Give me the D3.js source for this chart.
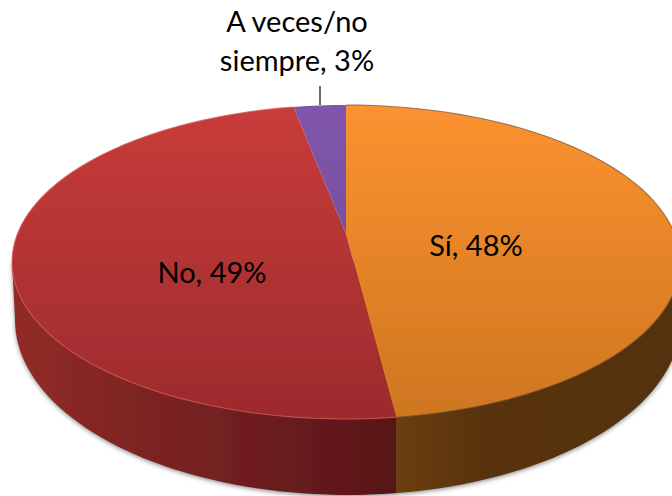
<!DOCTYPE html>
<html><head><meta charset="utf-8">
<script src="https://cdn.jsdelivr.net/npm/d3@7"></script>
<style>html,body{margin:0;padding:0;background:#fff;overflow:hidden}svg{display:block}text{font-family:Lato,"Open Sans",sans-serif;fill:#000}</style>
</head><body><svg id="c" width="672" height="496"></svg>
<script>
const categories = ["Sí", "No", "A veces/no siempre"];
const values = [48, 49, 3];
const faceTop = ["#FC9230", "#C93C3A", "#7F56AB"];
const faceBottom = ["#CE761F", "#9C2B2D", "#6A4790"];
const sideStops = [
  [["#6B3F12", 0], ["#5A330E", 0.3], ["#53300C", 1]],
  [["#922B28", 0], ["#7F2522", 0.3], ["#732020", 0.55], ["#571418", 1]]
];
const labelLines = [["Sí, 48%"], ["No, 49%"], ["A veces/no", "siempre, 3%"]];
const labelPos = [[476, 256], [212, 283], [297, 32]];

const W = 672, H = 496;
const svg = d3.select("#c");
const defs = svg.append("defs");

// top face ellipse and the perspective image of the pie's centre
const top_ = {cx: 346, cy: 262, rx: 334, ry: 157};
const apexY = -0.178;
const bot = {cx: 348, cy: 320, rx: 333, ry: 175};
const px = d3.scaleLinear().domain([-1, 1]).range([top_.cx - top_.rx, top_.cx + top_.rx]);
const py = d3.scaleLinear().domain([-1, 1]).range([top_.cy - top_.ry, top_.cy + top_.ry]);

// projective map of the unit disc sending its centre to (0, apexY)
function project(x, y) {
  const t = apexY, s = Math.sqrt(1 - t * t), d = 1 + t * y;
  return [px(x * s / d), py((y + t) / d)];
}
const onRim = a => project(Math.sin(a), -Math.cos(a));

const pie = d3.pie().sort(null).value(d => d).startAngle(0).endAngle(2 * Math.PI);
const arcs = pie(values);
const line = d3.line();

// side gradient, hard step at the slice boundary on the front
const frontX = onRim(arcs[0].endAngle)[0];
const leftX = top_.cx - top_.rx, rightX = top_.cx + top_.rx;
const g = defs.append("linearGradient").attr("id", "side").attr("gradientUnits", "userSpaceOnUse")
  .attr("x1", leftX).attr("x2", rightX).attr("y1", 0).attr("y2", 0);
const frac = d3.scaleLinear().domain([leftX, rightX]).range([0, 1]);
sideStops[1].forEach(([c, f]) => g.append("stop").attr("offset", frac(leftX + f * (frontX - leftX))).attr("stop-color", c));
sideStops[0].forEach(([c, f]) => g.append("stop").attr("offset", frac(frontX + f * (rightX - frontX))).attr("stop-color", c));

const fl = defs.append("filter").attr("id", "sh").attr("x", "-5%").attr("y", "-5%").attr("width", "110%").attr("height", "115%");
fl.append("feDropShadow").attr("dx", 0).attr("dy", 1.5).attr("stdDeviation", 2).attr("flood-color", "#555").attr("flood-opacity", 0.65);

const soft = defs.append("filter").attr("id", "soft").attr("x", "-2%").attr("y", "-2%").attr("width", "104%").attr("height", "104%");
soft.append("feGaussianBlur").attr("stdDeviation", 0.6);

// side hull
const hull = [[leftX, top_.cy]];
d3.range(0, 181, 2).forEach(deg => {
  const a = Math.PI * deg / 180;
  hull.push([bot.cx - bot.rx * Math.cos(a), bot.cy + bot.ry * Math.sin(a)]);
});
hull.push([rightX, top_.cy]);
svg.append("path").attr("d", line(hull) + "Z").attr("fill", "url(#side)").attr("filter", "url(#sh)");

// top-face slices
arcs.forEach((d, i) => {
  const gr = defs.append("linearGradient").attr("id", "f" + i).attr("gradientUnits", "userSpaceOnUse")
    .attr("x1", 0).attr("x2", 0).attr("y1", top_.cy - top_.ry).attr("y2", top_.cy + top_.ry);
  gr.append("stop").attr("offset", 0).attr("stop-color", faceTop[i]);
  gr.append("stop").attr("offset", 1).attr("stop-color", faceBottom[i]);
});
const face = svg.append("g").attr("filter", "url(#soft)");
face.selectAll("path.slice").data(arcs).join("path").attr("class", "slice")
  .attr("d", d => {
    const n = Math.max(8, Math.ceil((d.endAngle - d.startAngle) * 40));
    const pts = [project(0, 0)];
    d3.range(n + 1).forEach(k => pts.push(onRim(d.startAngle + (d.endAngle - d.startAngle) * k / n)));
    return line(pts) + "Z";
  })
  .attr("fill", (d, i) => `url(#f${i})`);

// rim: grey-ish on the back, light bevel on the front-left
const rim = svg.append("g").attr("fill", "none").attr("filter", "url(#soft)");
const rimPts = (a0, a1) => d3.range(0, 61).map(k => onRim(a0 + (a1 - a0) * k / 60));
arcs.forEach((d, i) => {
  rim.append("path").attr("d", line(rimPts(d.startAngle, d.endAngle)))
    .attr("stroke", i === 0 ? "#7a5a3a" : "#d9605a").attr("stroke-width", 1.1).attr("stroke-opacity", i === 2 ? 0 : 0.75);
});

// leader line
svg.append("line").attr("x1", 320).attr("x2", 320).attr("y1", 86).attr("y2", 105).attr("stroke", "#000").attr("stroke-width", 1.2);

// labels
labelLines.forEach((ls, i) => {
  const t = svg.append("text").attr("text-anchor", "middle").attr("font-size", 29);
  ls.forEach((s, j) => t.append("tspan").attr("x", labelPos[i][0]).attr("y", labelPos[i][1] + j * 39).text(s));
});
</script></body></html>
